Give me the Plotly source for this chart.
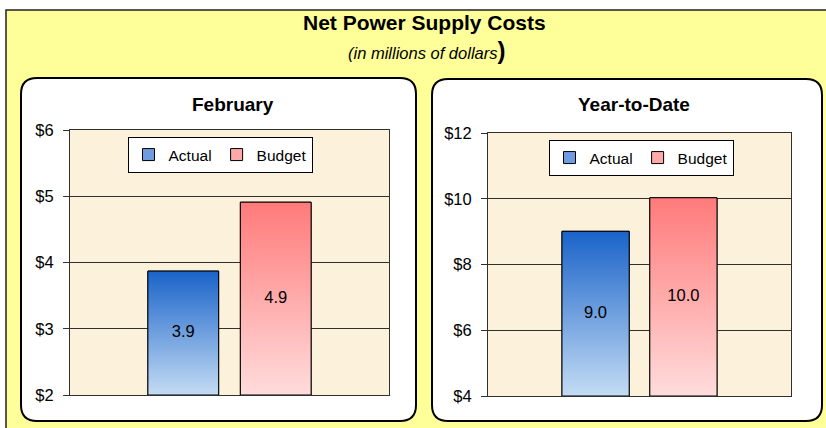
import plotly.graph_objects as go

W, H = 826, 428

# ---- data ----
series_names = ["Actual", "Budget"]
feb_values = [3.87, 4.91]
ytd_values = [9.01, 10.03]
feb_ticks = [2, 3, 4, 5, 6]
ytd_ticks = [4, 6, 8, 10, 12]
feb_ticktext = ["$2", "$3", "$4", "$5", "$6"]
ytd_ticktext = ["$4", "$6", "$8", "$10", "$12"]
panel_titles = ["February", "Year-to-Date"]
main_title = "Net Power Supply Costs"
sub_title = "(in millions of dollars"

# ---- style ----
FONT = "Liberation Sans, Arial, sans-serif"
dark = ["#1a63c9", "#ff7a7a"]
light = ["#c4dcf4", "#ffdcdc"]
mid = ["#6f9be0", "#ffaaaa"]
BAR_W = 0.765
XR = [-1.225, 2.225]
PLOT_BG = "#fcf1da"


def px(x):
    return x / W


def py(y):
    return 1 - y / H


def rounded(x0, y0, x1, y1, r):
    X0, X1 = px(x0), px(x1)
    Y0, Y1 = py(y0), py(y1)
    rx, ry = r / W, r / H
    return (f"M{X0+rx},{Y0} L{X1-rx},{Y0} Q{X1},{Y0} {X1},{Y0-ry} "
            f"L{X1},{Y1+ry} Q{X1},{Y1} {X1-rx},{Y1} L{X0+rx},{Y1} "
            f"Q{X0},{Y1} {X0},{Y1+ry} L{X0},{Y0-ry} Q{X0},{Y0} {X0+rx},{Y0} Z")


fig = go.Figure()

panels = [
    dict(vals=feb_values, ticks=feb_ticks, tt=feb_ticktext, xa="x", ya="y", leg="legend"),
    dict(vals=ytd_values, ticks=ytd_ticks, tt=ytd_ticktext, xa="x2", ya="y2", leg="legend2"),
]

for p in panels:
    lo = p["ticks"][0]
    for i, (name, v) in enumerate(zip(series_names, p["vals"])):
        fig.add_trace(go.Bar(
            x=[i], y=[v], name=name, width=BAR_W,
            marker=dict(color=mid[i], line=dict(color="black", width=1)),
            xaxis=p["xa"], yaxis=p["ya"], legend=p["leg"], hoverinfo="skip",
        ))
    for i, (name, v) in enumerate(zip(series_names, p["vals"])):
        l, r = i - BAR_W / 2, i + BAR_W / 2
        fig.add_trace(go.Scatter(
            x=[l, r, r, l, l], y=[lo, lo, v, v, lo], mode="lines",
            fill="toself",
            fillgradient=dict(type="vertical", colorscale=[[0, light[i]], [1, dark[i]]]),
            line=dict(color="black", width=1), showlegend=False,
            xaxis=p["xa"], yaxis=p["ya"], hoverinfo="skip",
        ))
    fig.add_trace(go.Scatter(
        x=list(range(len(p["vals"]))),
        y=[(lo + v) / 2 for v in p["vals"]],
        text=[f"{v:.1f}" for v in p["vals"]], mode="text",
        textfont=dict(family=FONT, size=16.5, color="black"),
        showlegend=False, xaxis=p["xa"], yaxis=p["ya"], hoverinfo="skip",
    ))

axis_common = dict(showline=True, mirror=True, linecolor="#303030", linewidth=1)
xaxis_common = dict(range=XR, showticklabels=False, showgrid=False, zeroline=False,
                    ticks="", fixedrange=True, automargin=False, **axis_common)


def yaxis(ticks, tt, dom):
    return dict(range=[ticks[0], ticks[-1]], tickvals=ticks, ticktext=tt,
                ticks="outside", ticklen=6, tickcolor="#303030",
                showgrid=True, gridcolor="#303030", gridwidth=1, zeroline=False,
                tickfont=dict(family=FONT, size=16.5, color="black"),
                ticklabelstandoff=6, domain=dom, automargin=False, **axis_common)


shapes = [
    dict(type="rect", xref="paper", yref="paper", x0=px(6), y0=py(10), x1=px(860), y1=py(460),
         fillcolor="#ffff99", line=dict(color="#202020", width=1.5), layer="below"),
    dict(type="path", xref="paper", yref="paper", path=rounded(21, 78, 416, 421, 16),
         fillcolor="white", line=dict(color="black", width=2), layer="below"),
    dict(type="path", xref="paper", yref="paper", path=rounded(432, 79, 822, 421, 16),
         fillcolor="white", line=dict(color="black", width=2), layer="below"),
    dict(type="rect", xref="x domain", yref="y domain", x0=0, x1=1, y0=0, y1=1,
         fillcolor=PLOT_BG, line=dict(width=0), layer="below"),
    dict(type="rect", xref="x2 domain", yref="y2 domain", x0=0, x1=1, y0=0, y1=1,
         fillcolor=PLOT_BG, line=dict(width=0), layer="below"),
]

annotations = [
    dict(text=f"<b>{main_title}</b>", x=px(424), y=py(23), xref="paper", yref="paper",
         showarrow=False, font=dict(family=FONT, size=21, color="black"),
         xanchor="center", yanchor="middle"),
    dict(text=f"<i>{sub_title}</i><b><span style='font-size:24px'>)</span></b>",
         x=px(426), y=py(51), xref="paper", yref="paper",
         showarrow=False, font=dict(family=FONT, size=16.5, color="black"),
         xanchor="center", yanchor="middle"),
    dict(text=f"<b>{panel_titles[0]}</b>", x=px(233), y=py(104), xref="paper", yref="paper",
         showarrow=False, font=dict(family=FONT, size=19, color="black"),
         xanchor="center", yanchor="middle"),
    dict(text=f"<b>{panel_titles[1]}</b>", x=px(634), y=py(105), xref="paper", yref="paper",
         showarrow=False, font=dict(family=FONT, size=19, color="black"),
         xanchor="center", yanchor="middle"),
]

legend_common = dict(orientation="h", bgcolor="white", bordercolor="black", borderwidth=1,
                     font=dict(family=FONT, size=15.5, color="black"), xanchor="center",
                     yanchor="middle", itemwidth=30, xref="paper", yref="paper",
                     tracegroupgap=0)

fig.update_layout(
    width=W, height=H, autosize=False,
    margin=dict(l=0, r=0, t=0, b=0, pad=0, autoexpand=False),
    paper_bgcolor="white", plot_bgcolor="rgba(0,0,0,0)",
    barmode="overlay", showlegend=True,
    xaxis=dict(domain=[px(70), px(389)], anchor="y", **xaxis_common),
    yaxis=yaxis(feb_ticks, feb_ticktext, [py(395), py(130)]) | dict(anchor="x"),
    xaxis2=dict(domain=[px(488), px(791)], anchor="y2", **xaxis_common),
    yaxis2=yaxis(ytd_ticks, ytd_ticktext, [py(396), py(133)]) | dict(anchor="x2"),
    legend=dict(x=px(220), y=py(155), **legend_common),
    legend2=dict(x=px(641), y=py(158), **legend_common),
    shapes=shapes, annotations=annotations,
)

fig.write_html(
    "out.html",
    config=dict(displayModeBar=False, responsive=False, staticPlot=True),
    post_script="document.body.style.margin='0';",
)
